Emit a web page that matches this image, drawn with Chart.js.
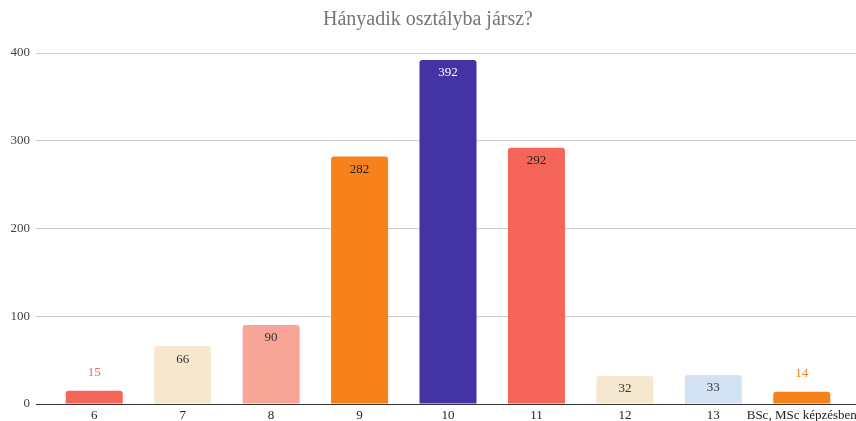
<!DOCTYPE html>
<html>
<head>
<meta charset="utf-8">
<script src="https://cdn.jsdelivr.net/npm/chart.js@4/dist/chart.umd.min.js"></script>
<style>
  html, body { margin: 0; padding: 0; background: #fff; }
  #wrap { width: 856px; height: 421px; }
  .warm { font-family: 'Liberation Serif'; position: absolute; left: -999px; top: 0; }
</style>
</head>
<body>
<span class="warm">Hányadik 0123</span>
<div id="wrap"><canvas id="chart"></canvas></div>
<script>
var categories = ['6', '7', '8', '9', '10', '11', '12', '13', 'BSc, MSc képzésben'];
var counts = [15, 66, 90, 282, 392, 292, 32, 33, 14];
var barColors = ['#f6655a', '#f6e7cf', '#f6a597', '#f7821b', '#4333a5', '#f6655a', '#f6e7cf', '#d3e2f3', '#f7821b'];
var labelColors = ['#f6655a', '#333333', '#333333', '#222222', '#ffffff', '#222222', '#333333', '#333333', '#f7821b'];
var yTicks = [0, 100, 200, 300, 400];

var serif = "'Liberation Serif', 'Times New Roman', serif";

// extends the horizontal grid lines past the plot area to the right edge
var gridExtend = {
  id: 'gridExtend',
  beforeDatasetsDraw: function (chart) {
    var ctx = chart.ctx;
    var area = chart.chartArea;
    var y = chart.scales.y;
    ctx.save();
    yTicks.forEach(function (v) {
      var py = Math.round(y.getPixelForValue(v) - 0.5) + 0.5;
      ctx.strokeStyle = v === 0 ? '#333333' : '#cccccc';
      ctx.lineWidth = 1;
      ctx.beginPath();
      ctx.moveTo(area.right, py);
      ctx.lineTo(chart.width, py);
      ctx.stroke();
    });
    ctx.restore();
  }
};

// value labels: inside the bar top, or above it for short bars
var valueLabels = {
  id: 'valueLabels',
  afterDatasetsDraw: function (chart) {
    var ctx = chart.ctx;
    var meta = chart.getDatasetMeta(0);
    ctx.save();
    ctx.font = '13px ' + serif;
    ctx.textAlign = 'center';
    ctx.textBaseline = 'middle';
    meta.data.forEach(function (bar, i) {
      var h = bar.base - bar.y;
      ctx.fillStyle = labelColors[i];
      if (h < 20) {
        ctx.fillText(counts[i], bar.x, bar.y - 18);
      } else {
        ctx.fillText(counts[i], bar.x, bar.y + 13);
      }
    });
    ctx.restore();
  }
};

Chart.defaults.font.family = serif;

var chart = new Chart(document.getElementById('chart'), {
  type: 'bar',
  data: {
    labels: categories,
    datasets: [{
      data: counts,
      backgroundColor: barColors,
      borderWidth: 0,
      borderRadius: 3,
      borderSkipped: 'bottom',
      barPercentage: 0.645,
      categoryPercentage: 1
    }]
  },
  options: {
    responsive: true,
    maintainAspectRatio: false,
    animation: false,
    layout: { padding: { left: 0, right: 0, top: 0, bottom: 0 } },
    plugins: {
      legend: { display: false },
      tooltip: { enabled: false },
      title: {
        display: true,
        text: 'Hányadik osztályba jársz?',
        color: '#757575',
        font: { family: serif, size: 20, weight: 'normal' },
        padding: { top: 8, bottom: 21 }
      }
    },
    scales: {
      x: {
        afterFit: function (scale) {
          scale.height = 17;
          scale.paddingLeft = 0;
          scale.paddingRight = 10;
        },
        grid: { display: false, drawTicks: false },
        border: { display: true, color: '#333333', width: 1 },
        ticks: {
          color: '#222222',
          font: { family: serif, size: 13 },
          padding: 4,
          maxRotation: 0,
          autoSkip: false
        }
      },
      y: {
        min: 0,
        max: 400,
        afterFit: function (scale) { scale.width = 50; },
        afterBuildTicks: function (scale) {
          scale.ticks = yTicks.map(function (v) { return { value: v }; });
        },
        grid: {
          color: function (c) { return c.tick && c.tick.value === 0 ? '#333333' : '#cccccc'; },
          tickLength: 14,
          lineWidth: 1
        },
        border: { display: false },
        ticks: {
          color: '#444444',
          font: { family: serif, size: 13 },
          padding: 6
        }
      }
    }
  },
  plugins: [gridExtend, valueLabels]
});

if (document.fonts && document.fonts.ready) {
  document.fonts.ready.then(function () { chart.update(); });
}
</script>
</body>
</html>
